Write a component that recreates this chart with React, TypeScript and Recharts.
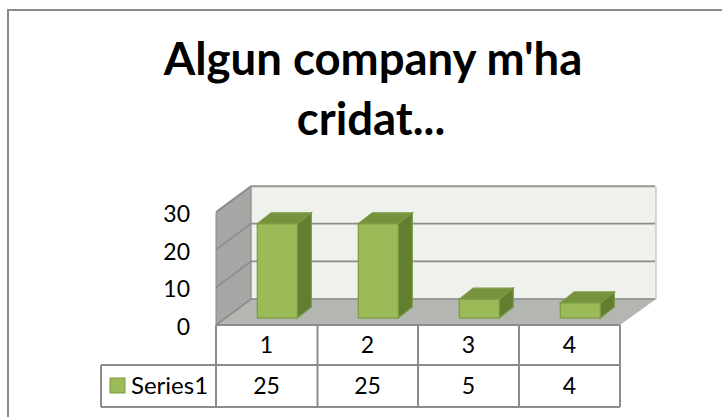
import React from 'react';
import { BarChart, Bar, XAxis, YAxis, CartesianGrid } from 'recharts';

const categories = ['1', '2', '3', '4'];
const seriesValues = [25, 25, 5, 4];
const yTicks = [0, 10, 20, 30];
const titleLines = ['Algun company m\'ha', 'cridat...'];
const seriesName = 'Series1';

const chartData = categories.map((name, i) => ({ name, value: seriesValues[i] }));

const FONT = 'Lato, "Open Sans", sans-serif';
const LINE = '#8c8c8c';
const DEPTH_X = 35;
const DEPTH_Y = -26;
const ROW_1 = 365;
const ROW_2 = 407;

// back wall line + the diagonal running along the side wall
const GridLine = (props: any) => {
  const { x1, x2, y1 } = props;
  return (
    <path
      d={`M${x1} ${y1} L${x1 + DEPTH_X} ${y1 + DEPTH_Y} L${x2 + DEPTH_X} ${y1 + DEPTH_Y}`}
      fill="none"
      stroke={LINE}
      strokeWidth={1.6}
    />
  );
};

// fake 3d column, pushed back to the middle of the floor
const Bar3D = (props: any) => {
  const { x, y, width, height } = props;
  const left = x + 11;
  const top = y - 7;
  const dx = 14;
  const dy = -11;
  return (
    <g stroke="#7c9a42" strokeWidth={1.2}>
      <polygon
        points={`${left},${top} ${left + dx},${top + dy} ${left + width + dx},${top + dy} ${left + width},${top}`}
        fill="#76923c"
      />
      <polygon
        points={`${left + width},${top} ${left + width + dx},${top + dy} ${left + width + dx},${top + height + dy} ${left + width},${top + height}`}
        fill="#627f31"
      />
      <rect x={left} y={top} width={width} height={height} fill="#9bbb59" />
    </g>
  );
};

// axis tick draws both rows of the data table under the plot
const TableTick = (props: any) => {
  const { x, payload, index } = props;
  return (
    <g fontFamily={FONT} fontSize={23} fill="#000" textAnchor="middle">
      <text x={x} y={353} fill="#000" textAnchor="middle">{payload.value}</text>
      <text x={x} y={394} fill="#000" textAnchor="middle">{seriesValues[index]}</text>
    </g>
  );
};

const ValueTick = (props: any) => {
  const { x, y, payload } = props;
  return (
    <text x={x} y={y + 10} fontFamily={FONT} fontSize={23} fill="#000" textAnchor="end">
      {payload.value}
    </text>
  );
};

export default function App() {
  return (
    <div style={{ position: 'absolute', left: 0, top: 0, width: 722, height: 417, background: '#fff' }}>
      <svg width={722} height={417} style={{ position: 'absolute', left: 0, top: 0 }}>
        {/* chart frame, runs off the right and bottom of the picture */}
        <path d="M8 417 V10 H722" fill="none" stroke={LINE} strokeWidth={2} />
        <g fontFamily={FONT} fontWeight={700} fontSize={45.5} fill="#000" textAnchor="middle">
          <text x={373} y={75}>{titleLines[0]}</text>
          <text x={371} y={135}>{titleLines[1]}</text>
        </g>
        {/* walls and floor */}
        <polygon points="251,187 656,187 656,299 251,299" fill="#eef1ec" stroke="#b4b6b2" strokeWidth={1} />
        <polygon points="216,213 251,187 251,299 216,325" fill="#a6a7a4" stroke="#8c8c8c" strokeWidth={1} />
        <polygon points="216,325 251,299 656,299 620,325" fill="#b3b6b1" />
        {/* data table */}
        <g stroke={LINE} strokeWidth={2} fill="none">
          <path d={`M216 325 H620 M216 325 V${ROW_2} M317.5 325 V${ROW_2} M418 325 V${ROW_2} M519 325 V${ROW_2} M620 325 V${ROW_2}`} />
          <path d={`M101 ${ROW_1} H620 M101 ${ROW_2} H620 M101 ${ROW_1} V${ROW_2}`} />
        </g>
        <rect x={110} y={378} width={15} height={15} fill="#9bbb59" stroke="#7c9a42" />
        <text x={131} y={394} fontFamily={FONT} fontSize={24} fill="#000">{seriesName}</text>
      </svg>
      <div style={{ position: 'absolute', left: 0, top: 0 }}>
        <BarChart
          width={722}
          height={417}
          data={chartData}
          margin={{ left: 0, right: 102, top: 212, bottom: 0 }}
          barCategoryGap="30%"
        >
          <CartesianGrid vertical={false} horizontal={(p: any) => <GridLine key={p.index} {...p} />} />
          <XAxis
            dataKey="name"
            axisLine={false}
            tickLine={false}
            interval={0}
            height={92}
            tick={(p: any) => <TableTick {...p} />}
          />
          <YAxis
            domain={[0, 30]}
            ticks={yTicks}
            width={216}
            axisLine={false}
            tickLine={false}
            tick={(p: any) => <ValueTick {...p} />}
            tickMargin={20}
            interval={0}
          />
          <Bar dataKey="value" shape={(p: any) => <Bar3D {...p} />} isAnimationActive={false} />
        </BarChart>
      </div>
    </div>
  );
}
